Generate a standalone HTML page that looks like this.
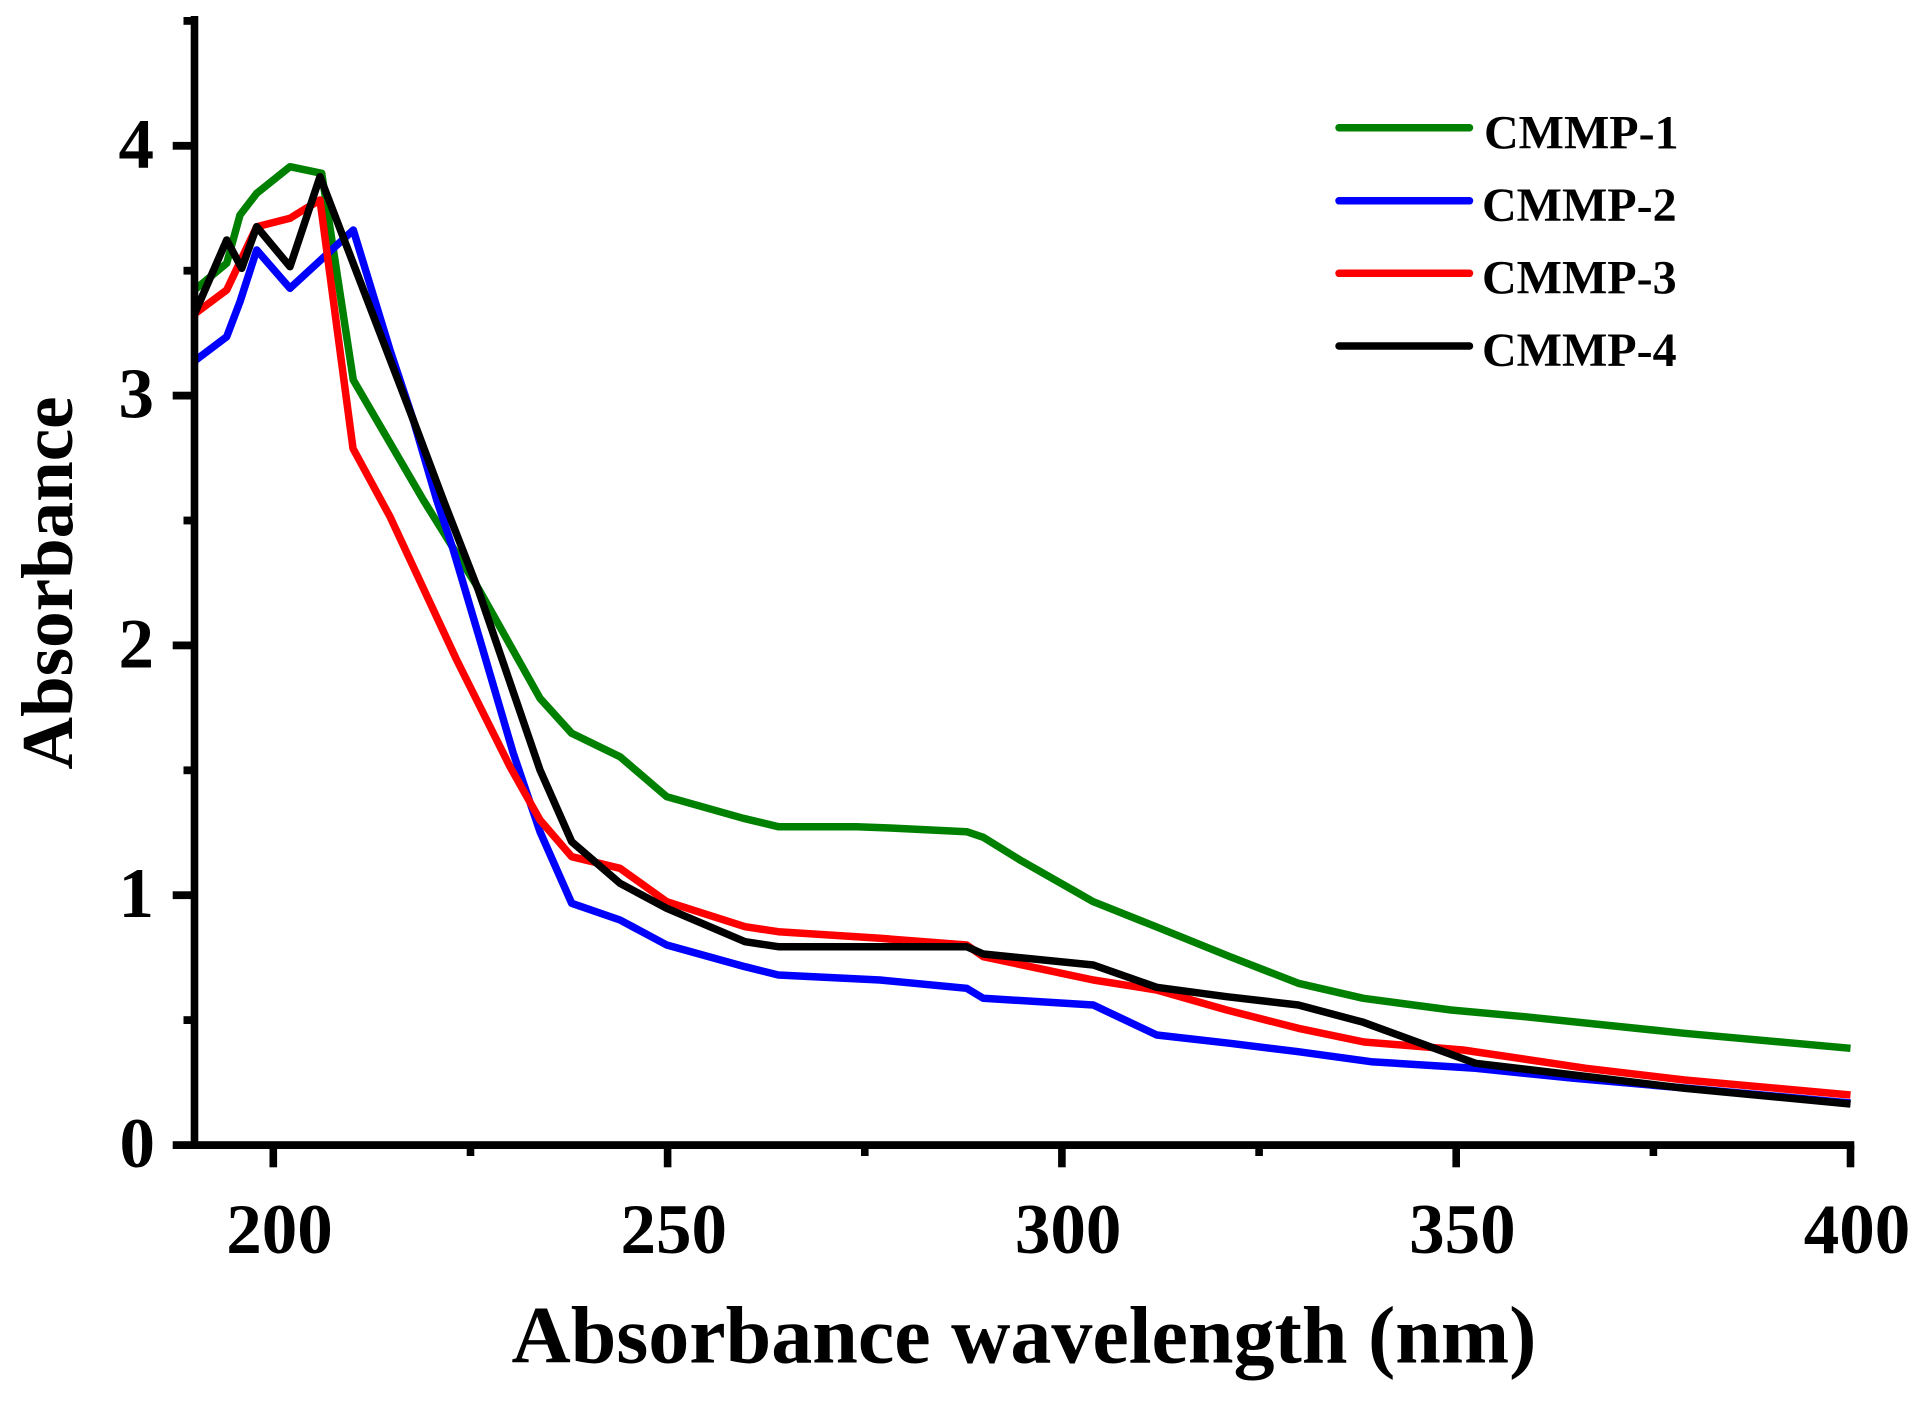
<!DOCTYPE html>
<html><head><meta charset="utf-8"><style>
html,body{margin:0;padding:0;background:#fff;}
svg{display:block;}
</style></head><body>
<svg width="1928" height="1401" viewBox="0 0 1928 1401" xmlns="http://www.w3.org/2000/svg">
<rect width="1928" height="1401" fill="#fff"/>
<g fill="none" stroke-width="7.5" stroke-linejoin="round">
<polyline stroke="#008000" points="194.5,290 226.7,263.3 240,215 256.7,193.3 290,166.7 321.7,173.3 353.3,380 423.3,500 478.3,588.3 540,698.3 571.7,733.3 620,756.7 666.7,796.7 743.3,818.3 778.3,826.7 856.7,826.7 890,828 966.7,831.7 983.3,837.3 1020,860 1093.3,901.7 1160,928.3 1230,956.7 1298.3,983.3 1363.3,998.3 1451,1010 1524.7,1016.7 1684.5,1033.3 1850.5,1048.3"/>
<polyline stroke="#0000ff" points="194.5,361 226.7,336.7 240,301.7 256.7,250 290,288.3 353.3,230 390,350 413.3,420 436.7,500 453.3,550 480,640 513.3,753.3 540,831.7 571.7,903.3 620,920 666.7,945 745,966.7 778.3,975 880,980 966.7,988.3 983.3,998.3 1093.3,1005 1156.7,1035 1230,1043.3 1298.3,1051.7 1371,1061.7 1475.5,1068.3 1574,1078.3 1684.5,1088 1850.5,1103"/>
<polyline stroke="#ff0000" points="194.5,314 226.7,290 256.7,226.7 290,218.3 303.3,210 320,200 353,448.5 390,516.7 456.7,660 510,766.7 540,820 571.7,856.7 620,868.3 666.7,901.7 745,926.7 778.3,931.7 880,938.3 966.7,945 983.3,956.7 1093.3,980 1156.7,990 1226.7,1010 1298.3,1028.3 1364,1042 1463,1050 1586,1068.3 1684.5,1080 1850.5,1095"/>
<polyline stroke="#000000" points="194.5,314 226.7,240 241.7,268.3 256.7,226.7 290,266.7 320,176.7 413.3,420 443.3,500 478.3,590 540,770 571.7,841.7 620,883.3 666.7,908.3 745,941.7 778.3,946.7 890,946.7 966.7,946.7 983.3,954 1093.3,965 1156.7,987.3 1226.7,996.7 1298.3,1005 1363.3,1022.3 1475.5,1063.3 1574,1075 1684.5,1088.3 1850.5,1104"/>
</g>
<!-- axes -->
<g fill="#000">
<rect x="190.7" y="16" width="7.6" height="1133"/>
<rect x="172.7" y="1141.2" width="1681.6" height="7.8"/>
<!-- y major ticks -->
<rect x="172.7" y="891.3" width="22" height="7.8"/>
<rect x="172.7" y="641.5" width="22" height="7.8"/>
<rect x="172.7" y="391.7" width="22" height="7.8"/>
<rect x="172.7" y="141.9" width="22" height="7.8"/>
<!-- y minor ticks -->
<rect x="183.5" y="1016.2" width="11" height="7.8"/>
<rect x="183.5" y="766.4" width="11" height="7.8"/>
<rect x="183.5" y="516.6" width="11" height="7.8"/>
<rect x="183.5" y="266.8" width="11" height="7.8"/>
<rect x="183.5" y="17" width="11" height="7.8"/>
<!-- x major ticks -->
<rect x="269.5" y="1145" width="7.6" height="22.3"/>
<rect x="663.8" y="1145" width="7.6" height="22.3"/>
<rect x="1058.1" y="1145" width="7.6" height="22.3"/>
<rect x="1452.4" y="1145" width="7.6" height="22.3"/>
<rect x="1846.7" y="1145" width="7.6" height="22.3"/>
<!-- x minor ticks -->
<rect x="466.7" y="1145" width="7.6" height="11"/>
<rect x="861" y="1145" width="7.6" height="11"/>
<rect x="1255.3" y="1145" width="7.6" height="11"/>
<rect x="1649.6" y="1145" width="7.6" height="11"/>
</g>
<g font-family="'Liberation Serif', 'DejaVu Serif', serif" font-weight="bold" fill="#000">
<g font-size="71" text-anchor="end">
<text x="155" y="1167">0</text>
<text x="154" y="917">1</text>
<text x="154" y="667.5">2</text>
<text x="154" y="417.5">3</text>
<text x="154" y="167.5">4</text>
</g>
<g font-size="71" text-anchor="middle">
<text x="279.5" y="1253">200</text>
<text x="673.8" y="1253">250</text>
<text x="1068.1" y="1253">300</text>
<text x="1462.4" y="1253">350</text>
<text x="1857" y="1253">400</text>
</g>
<text x="1024" y="1362.7" font-size="82" text-anchor="middle">Absorbance wavelength (nm)</text>
<text transform="translate(72,583) rotate(-90)" font-size="73" text-anchor="middle">Absorbance</text>
<g font-size="48">
<text x="1484" y="148.5">CMMP-1</text>
<text x="1482" y="221">CMMP-2</text>
<text x="1482" y="293.5">CMMP-3</text>
<text x="1482" y="366">CMMP-4</text>
</g>
</g>
<g stroke-width="7.5" stroke-linecap="round">
<line x1="1339" y1="127.7" x2="1469.5" y2="127.7" stroke="#008000"/>
<line x1="1339" y1="200.8" x2="1469.5" y2="200.8" stroke="#0000ff"/>
<line x1="1339" y1="273.3" x2="1469.5" y2="273.3" stroke="#ff0000"/>
<line x1="1339" y1="346" x2="1469.5" y2="346" stroke="#000000"/>
</g>
</svg>
</body></html>
